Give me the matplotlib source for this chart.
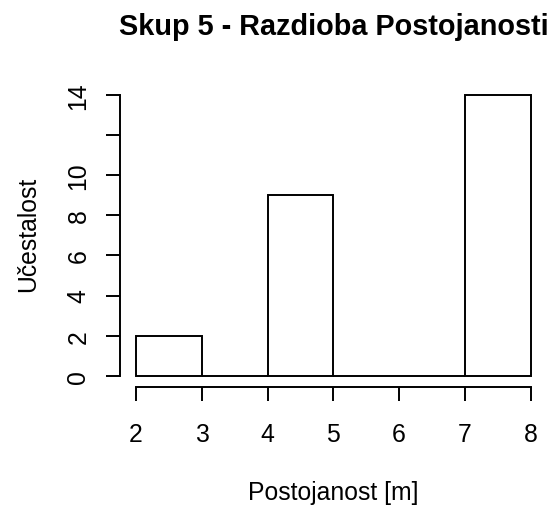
import numpy as np
import matplotlib.pyplot as plt

# podaci histograma
rubovi = [2, 3, 4, 5, 6, 7, 8]
ucestalost = [2, 0, 9, 0, 0, 14]
y_ticks = [0, 2, 4, 6, 8, 10, 12, 14]
y_oznake = ['0', '2', '4', '6', '8', '10', '', '14']

plt.rcParams['font.family'] = ['Liberation Sans', 'DejaVu Sans']

fig = plt.figure(figsize=(5.51, 5.06), dpi=100)
ax = fig.add_axes([0.218, 0.233, 0.774, 0.600])

ax.bar(rubovi[:-1], ucestalost, width=1, align='edge',
       fill=False, edgecolor='black', linewidth=1.4)

ax.set_xlim(1.76, 8.24)
ax.set_ylim(-0.56, 14.56)

# osi u R stilu - odvojene od podrucja crtanja
for s in ['top', 'right']:
    ax.spines[s].set_visible(False)
ax.spines['bottom'].set_bounds(2, 8)
ax.spines['left'].set_bounds(0, 14)
ax.spines['bottom'].set_linewidth(1.4)
ax.spines['left'].set_linewidth(1.4)

ax.set_xticks(rubovi)
ax.set_yticks(y_ticks)
ax.tick_params(axis='both', length=10, width=1.4, labelsize=17.8, pad=15)
ax.set_yticklabels(y_oznake, rotation=90, rotation_mode='anchor',
                   ha='center', va='baseline')

ax.set_title('Skup 5 - Razdioba Postojanosti', fontsize=20.8,
             fontweight='bold', pad=0, y=1.163, va='baseline')

ax.set_xlabel('Postojanost [m]', fontsize=17.8, va='baseline')
ax.xaxis.set_label_coords(0.5, -0.3685)
ax.set_ylabel('Učestalost', fontsize=17.8, va='baseline')
ax.yaxis.set_label_coords(-0.1995, 0.505)

fig.savefig('out.png', dpi=100)
